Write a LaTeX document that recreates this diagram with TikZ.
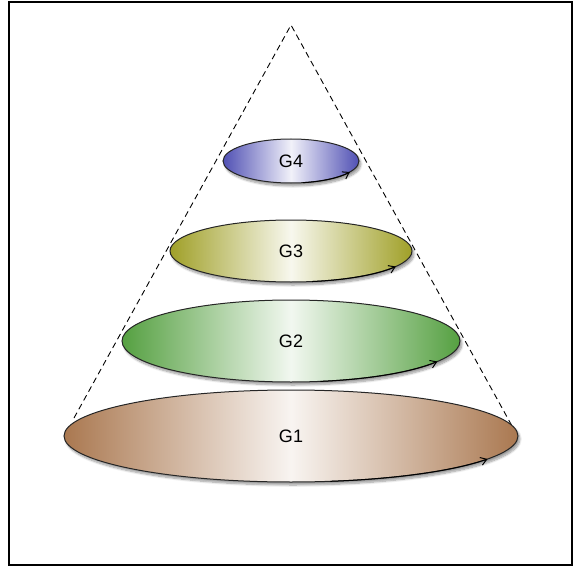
\documentclass[tikz,border=0pt]{standalone}
\usepackage{fontspec}
\setmainfont{Liberation Sans}
\usetikzlibrary{shapes.geometric,shadows.blur,arrows.meta}
\definecolor{cG4}{RGB}{80,80,180}
\definecolor{cG3}{RGB}{160,160,40}
\definecolor{cG2}{RGB}{85,160,65}
\definecolor{cG1}{RGB}{170,120,80}
\tikzset{
  layer/.style={ellipse, draw=black!85, line width=1pt, inner sep=0pt,
     blur shadow={shadow xshift=2pt, shadow yshift=-3pt, shadow blur steps=8, shadow opacity=40},
     left color=#1, right color=#1, middle color=#1!8!white, font=\fontsize{18}{20}\selectfont},
  cone/.style={line width=0.9pt, dash pattern=on 6pt off 4pt},
  turn/.style={line width=1pt, -{Straight Barb[length=6pt,width=8pt]}}
}
\begin{document}
\begin{tikzpicture}[x=1pt,y=-1pt]
\useasboundingbox (0,0) rectangle (573,567);
\draw[line width=1.2pt] (9,2) rectangle (572,565);
\coordinate (apex) at (291,25);
\coordinate (bl) at (74,418);
\coordinate (br) at (512,426);
\draw[cone] (bl) -- (apex) -- (br);
\node[layer=cG1, minimum width=454pt, minimum height=92pt] (g1) at (291,436) {G1};
\node[layer=cG2, minimum width=338pt, minimum height=82pt] (g2) at (291,341) {G2};
\node[layer=cG3, minimum width=242pt, minimum height=62pt] (g3) at (291,251) {G3};
\node[layer=cG4, minimum width=136pt, minimum height=44pt] (g4) at (291,161) {G4};
\draw[turn] (g4.center) ++(-80:68pt and 22pt) arc[start angle=-80, end angle=-30, x radius=68pt, y radius=22pt];
\draw[turn] (g3.center) ++(-80:121pt and 31pt) arc[start angle=-80, end angle=-30, x radius=121pt, y radius=31pt];
\draw[turn] (g2.center) ++(-80:169pt and 41pt) arc[start angle=-80, end angle=-30, x radius=169pt, y radius=41pt];
\draw[turn] (g1.center) ++(-80:227pt and 46pt) arc[start angle=-80, end angle=-30, x radius=227pt, y radius=46pt];
\end{tikzpicture}
\end{document}
